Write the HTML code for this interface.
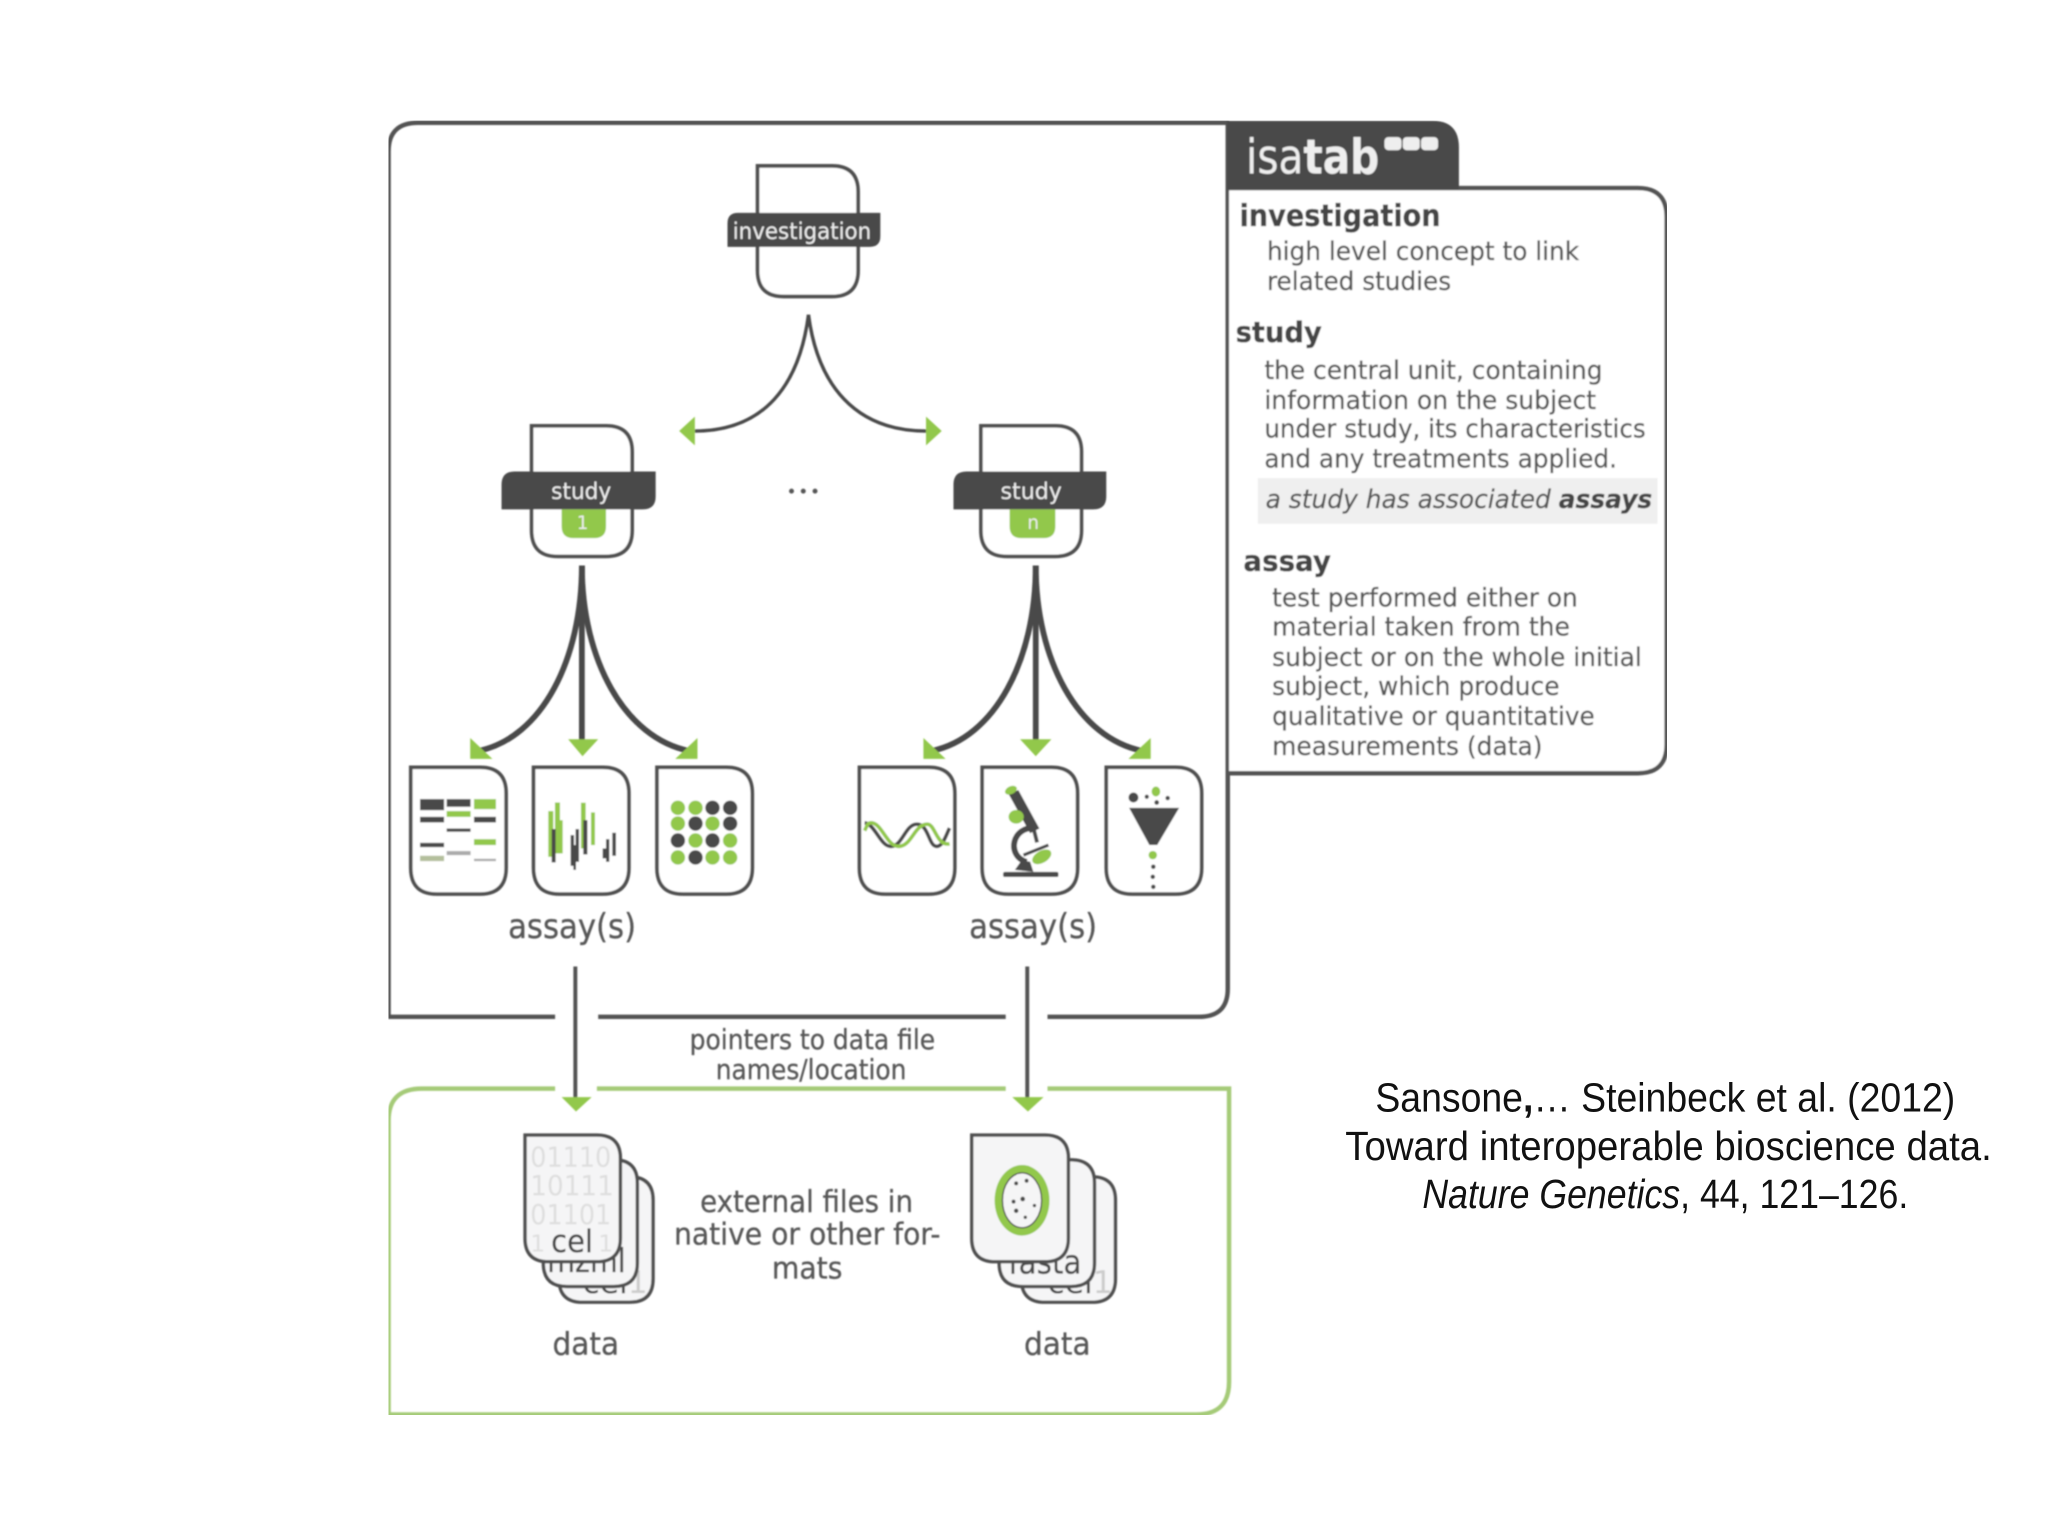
<!DOCTYPE html>
<html><head><meta charset="utf-8"><title>ISA-Tab diagram</title>
<style>html,body{margin:0;padding:0;background:#fff}svg{display:block}
.t{font-family:"DejaVu Sans",sans-serif;fill:#575757;stroke:#575757;stroke-width:.22px}
.b{font-family:"DejaVu Sans",sans-serif;font-weight:bold;fill:#444;stroke:#444;stroke-width:.25px}
.c{font-family:"Liberation Sans",sans-serif;fill:#111;font-size:31px}
</style></head><body>
<svg xmlns="http://www.w3.org/2000/svg" width="2048" height="1536" viewBox="0 0 1568 1176">
<defs>
<filter id="bl" x="0" y="0" width="100%" height="100%"><feGaussianBlur stdDeviation="0.65"/></filter>
<path id="doc" d="M0,0H53Q73,0 73,20V77Q73,97 53,97H20Q0,97 0,77Z"/>
<path id="sdoc" d="M0,0H57Q77,0 77,20V80Q77,100 57,100H20Q0,100 0,80Z"/>
</defs>
<rect width="1568" height="1176" fill="#fff"/>
<g filter="url(#bl)">
<!-- outer gray frame -->
<g fill="none" stroke="#525252" stroke-width="3.4">
<path d="M425,778.5H297.5V116Q297.5,94 320,94H941"/>
<path d="M458,778.5H770"/>
<path d="M802,778.5H918Q940,778.5 940,757V94"/>
</g>
<!-- green frame -->
<g fill="none" stroke="#a5cb78" stroke-width="3.4">
<path d="M425,833.5H323Q297.5,833.5 297.5,858V1083H916Q941,1083 941,1058V833.5H802"/>
<path d="M457,833.5H770"/>
</g>
<!-- isatab panel -->
<path d="M941,144H1254Q1276,144 1276,166V570Q1276,592 1254,592H941" fill="#fff" stroke="#525252" stroke-width="3.4"/>
<path d="M939.5,92.5H1097Q1117,92.5 1117,113V145H939.5Z" fill="#484848"/>
<text x="954" y="133" font-size="37" textLength="102" lengthAdjust="spacingAndGlyphs" style="font-family:'DejaVu Sans',sans-serif;fill:#eee">isa<tspan font-weight="bold">tab</tspan></text>
<g fill="#eee"><rect x="1060" y="105" width="13" height="10" rx="3"/><rect x="1074" y="105" width="13" height="10" rx="3"/><rect x="1088" y="105" width="13" height="10" rx="3"/></g>
<text class="b" x="949" y="173" font-size="23" textLength="154" lengthAdjust="spacingAndGlyphs">investigation</text>
<g font-size="20">
<text class="t" x="970" y="199" textLength="239" lengthAdjust="spacingAndGlyphs">high level concept to link</text>
<text class="t" x="970" y="222" textLength="141" lengthAdjust="spacingAndGlyphs">related studies</text>
<text class="t" x="968" y="290" textLength="259" lengthAdjust="spacingAndGlyphs">the central unit, containing</text>
<text class="t" x="968" y="313" textLength="254" lengthAdjust="spacingAndGlyphs">information on the subject</text>
<text class="t" x="968" y="335" textLength="292" lengthAdjust="spacingAndGlyphs">under study, its characteristics</text>
<text class="t" x="968" y="358" textLength="270" lengthAdjust="spacingAndGlyphs">and any treatments applied.</text>
<text class="t" x="974" y="464.5" textLength="234" lengthAdjust="spacingAndGlyphs">test performed either on</text>
<text class="t" x="974" y="486.5" textLength="228" lengthAdjust="spacingAndGlyphs">material taken from the</text>
<text class="t" x="974" y="510" textLength="283" lengthAdjust="spacingAndGlyphs">subject or on the whole initial</text>
<text class="t" x="974" y="532" textLength="220" lengthAdjust="spacingAndGlyphs">subject, which produce</text>
<text class="t" x="974" y="555" textLength="247" lengthAdjust="spacingAndGlyphs">qualitative or quantitative</text>
<text class="t" x="974" y="578" textLength="207" lengthAdjust="spacingAndGlyphs">measurements (data)</text>
</g>
<text class="b" x="946" y="262" font-size="22" textLength="66" lengthAdjust="spacingAndGlyphs">study</text>
<rect x="963" y="366" width="306" height="35" fill="#efefef"/>
<text class="t" x="969" y="389" font-size="20" font-style="italic" textLength="296" lengthAdjust="spacingAndGlyphs">a study has associated <tspan font-weight="bold" fill="#444">assays</tspan></text>
<text class="b" x="952" y="437" font-size="22" textLength="67" lengthAdjust="spacingAndGlyphs">assay</text>

<!-- nodes -->
<g fill="#fff" stroke="#4f4f4f" stroke-width="2.8">
<use href="#sdoc" x="580" y="127"/>
<use href="#sdoc" x="407" y="326"/>
<use href="#sdoc" x="751" y="326"/>
</g>
<path d="M565,163H674V181Q674,189 666,189H557V171Q557,163 565,163Z" fill="#484848"/>
<text x="561" y="183" font-size="18" textLength="106" lengthAdjust="spacingAndGlyphs" style="font-family:'DejaVu Sans',sans-serif;fill:#eee">investigation</text>
<path d="M394,361H502V380Q502,390 492,390H384V371Q384,361 394,361Z" fill="#484848"/>
<path d="M740,361H847V380Q847,390 837,390H730V371Q730,361 740,361Z" fill="#484848"/>
<path d="M430,390H464V403Q464,412 455,412H439Q430,412 430,403Z" fill="#92c84b"/>
<path d="M773,390H808V403Q808,412 799,412H782Q773,412 773,403Z" fill="#92c84b"/>
<g style="font-family:'DejaVu Sans',sans-serif">
<text x="422" y="382" font-size="18" textLength="46" lengthAdjust="spacingAndGlyphs" fill="#eee">study</text>
<text x="766" y="382" font-size="18" textLength="47" lengthAdjust="spacingAndGlyphs" fill="#eee">study</text>
<text x="446" y="405" font-size="14" text-anchor="middle" fill="#eee">1</text>
<text x="791" y="405" font-size="14" text-anchor="middle" fill="#eee">n</text>
</g>
<g fill="#555"><circle cx="606" cy="376" r="1.9"/><circle cx="615" cy="376" r="1.9"/><circle cx="624" cy="376" r="1.9"/></g>

<!-- investigation curves -->
<g fill="none" stroke="#484848" stroke-width="2.6">
<path d="M619,241C612,295 585,330 532,330"/>
<path d="M619,241C626,295 655,330 709,330"/>
</g>
<polygon points="520,330 532,319 532,341" fill="#92c84b"/>
<polygon points="721,330 709,319 709,341" fill="#92c84b"/>

<!-- study curves -->
<g fill="none" stroke="#484848" stroke-width="4.4">
<path d="M445.5,433C445.5,505 415,565 366,575"/>
<path d="M445.5,433V568"/>
<path d="M445.5,433C445.5,505 478,565 528,575"/>
<path d="M793,433C793,505 762,565 713,575"/>
<path d="M793,433V568"/>
<path d="M793,433C793,505 825,565 875,575"/>
</g>
<g fill="#92c84b">
<polygon points="360,565 360,581 377,581"/><polygon points="534,565 534,581 517,581"/><polygon points="435,566 458,566 446,579"/>
<polygon points="707,565 707,581 724,581"/><polygon points="881,565 881,581 864,581"/><polygon points="781,566 805,566 793,579"/>
</g>

<!-- assay docs -->
<g fill="#fff" stroke="#4f4f4f" stroke-width="2.8">
<use href="#doc" x="314.5" y="587.5"/><use href="#doc" x="408.5" y="587.5"/><use href="#doc" x="503" y="587.5"/>
<use href="#doc" x="658" y="587.5"/><use href="#doc" x="752" y="587.5"/><use href="#doc" x="847" y="587.5"/>
</g>
<!-- gel -->
<g fill="#484848">
<rect x="321.6" y="611.8" width="18.4" height="8.5"/><rect x="342" y="611.8" width="18.3" height="5.9"/>
<rect x="321.6" y="625.4" width="18.4" height="4.3"/><rect x="342" y="634.3" width="18.3" height="2.5"/><rect x="362.9" y="625.4" width="16.8" height="4.3"/>
<rect x="321.6" y="645.3" width="18.4" height="3.3"/>
</g>
<g fill="#92c84b"><rect x="362.9" y="611.8" width="16.8" height="7.7"/><rect x="342" y="621" width="18.3" height="4.4"/><rect x="362.9" y="642.5" width="16.8" height="4.5"/></g>
<g fill="#aaa"><rect x="321.6" y="655.2" width="18.4" height="4.1" fill="#b4bf9c"/><rect x="342" y="651.6" width="18.3" height="3.1"/><rect x="362.9" y="657.5" width="16.8" height="1.8"/></g>
<!-- chromatogram -->
<g fill="#92c84b">
<rect x="419.8" y="621" width="3.8" height="35"/><rect x="424.9" y="614.4" width="3.8" height="39"/><rect x="427.5" y="628" width="3.3" height="25.4"/>
<rect x="444.8" y="614.6" width="3.6" height="35"/><rect x="452.5" y="622" width="3" height="25"/>
</g>
<g fill="#484848">
<rect x="422.4" y="634.8" width="3" height="25.5"/><rect x="436.9" y="639.4" width="2.6" height="23.5"/><rect x="439" y="647" width="2" height="19"/><rect x="440.7" y="634.8" width="2.6" height="25"/>
<rect x="446.6" y="628" width="3.1" height="26.2"/><rect x="461.4" y="649.6" width="3.1" height="7.6"/><rect x="464" y="642.5" width="2.5" height="17.3"/><rect x="468.8" y="637.6" width="2.8" height="17.6"/>
</g>
<!-- dots -->
<g fill="#92c84b">
<circle cx="519" cy="618.5" r="5.5"/><circle cx="532.5" cy="618.5" r="5.5"/>
<circle cx="519" cy="630.5" r="5.5"/><circle cx="545.5" cy="630.5" r="5.5"/>
<circle cx="532.5" cy="643.5" r="5.5"/><circle cx="559" cy="643.5" r="5.5"/>
<circle cx="519" cy="656.5" r="5.5"/><circle cx="545.5" cy="656.5" r="5.5"/><circle cx="559" cy="656.5" r="5.5"/>
</g>
<g fill="#484848">
<circle cx="545.5" cy="618.5" r="5.5"/><circle cx="559" cy="618.5" r="5.5"/>
<circle cx="532.5" cy="630.5" r="5.5"/><circle cx="559" cy="630.5" r="5.5"/>
<circle cx="519" cy="643.5" r="5.5"/><circle cx="545.5" cy="643.5" r="5.5"/>
<circle cx="532.5" cy="656.5" r="5.5"/>
</g>
<!-- dna -->
<path d="M662,630C670,631 674,648 682,648C691,648 693,631 702,631C711,631 711,648 717,648C722,648 724,640 727,634" fill="none" stroke="#484848" stroke-width="2.8"/>
<path d="M662,636C664,632 664,630 667,630C675,630 679,648 688,648C698,648 700,631 710,631C716,631 717,648 727,646" fill="none" stroke="#92c84b" stroke-width="2.8"/>
<!-- microscope -->
<polygon points="772,607.5 779.7,604.9 795.8,634.3 788.7,638" fill="#484848"/>
<g fill="none" stroke="#484848">
<path d="M793,634C775,632 770,655 786,660" stroke-width="4.5"/>
<path d="M783.6,654.7L802.7,647" stroke-width="2.4"/>
<path d="M791,633L794,645" stroke-width="3"/>
</g>
<polygon points="777,666 782.3,658.5 788.7,659.8 791.2,667.5" fill="#484848"/>
<rect x="768" y="667.5" width="42.4" height="4" rx="1.5" fill="#484848"/>
<g fill="#92c84b">
<ellipse cx="774" cy="605" rx="4.8" ry="3" transform="rotate(-25 774 605)"/>
<ellipse cx="778" cy="625.4" rx="5.8" ry="5.2"/>
<ellipse cx="797.6" cy="656" rx="8" ry="4.6" transform="rotate(-30 797.6 656)"/>
</g>
<!-- funnel -->
<polygon points="864.5,618.5 902.8,618.5 886,647 880,647" fill="#484848"/>
<g fill="#484848"><circle cx="867.8" cy="610.6" r="3.8"/><circle cx="878" cy="610" r="1.6"/><circle cx="885.6" cy="614.4" r="1.8"/><circle cx="894" cy="611" r="1.7"/>
<circle cx="883" cy="663.6" r="1.7"/><circle cx="882.6" cy="671.3" r="1.7"/><circle cx="883" cy="679" r="1.7"/></g>
<ellipse cx="885" cy="606" rx="3.3" ry="3.8" fill="#92c84b"/><circle cx="882.6" cy="654.7" r="3.2" fill="#92c84b"/>

<text class="t" x="389" y="718" font-size="26" textLength="98" lengthAdjust="spacingAndGlyphs">assay(s)</text>
<text class="t" x="742" y="718" font-size="26" textLength="98" lengthAdjust="spacingAndGlyphs">assay(s)</text>

<!-- pointers -->
<g stroke="#525252" stroke-width="3"><path d="M440.5,740V842"/><path d="M786.5,740V842"/></g>
<polygon points="430,840 453,840 441,851" fill="#92c84b"/><polygon points="775,840 799,840 787,851" fill="#92c84b"/>
<text class="t" x="528" y="803" font-size="21" textLength="188" lengthAdjust="spacingAndGlyphs">pointers to data file</text>
<text class="t" x="548" y="826" font-size="21" textLength="146" lengthAdjust="spacingAndGlyphs">names/location</text>

<!-- left stack -->
<path d="M428,901H482Q500,901 500,919V979Q500,997 482,997H446Q428,997 428,979Z" fill="#f5f5f6" stroke="#4f4f4f" stroke-width="2.6"/>
<text class="t" x="446" y="990" font-size="24" style="fill:#444;stroke:none">cel<tspan fill="#ccc">1</tspan></text>
<path d="M416,888H470Q488,888 488,906V967Q488,985 470,985H434Q416,985 416,967Z" fill="#f5f5f6" stroke="#4f4f4f" stroke-width="2.6"/>
<text class="t" x="419" y="974" font-size="25" textLength="60" lengthAdjust="spacingAndGlyphs" style="fill:#4a4a4a">mzml</text>
<path d="M402,869H457Q475,869 475,887V948Q475,966 457,966H420Q402,966 402,948Z" fill="#f5f5f6" stroke="#4f4f4f" stroke-width="2.6"/>
<g style="font-family:'DejaVu Sans',sans-serif" font-size="21" fill="#dedede">
<text x="406" y="893" textLength="62" lengthAdjust="spacingAndGlyphs">01110</text>
<text x="406" y="915" textLength="64" lengthAdjust="spacingAndGlyphs">10111</text>
<text x="406" y="937" textLength="62" lengthAdjust="spacingAndGlyphs">01101</text>
<text x="406" y="958" font-size="18">1</text>
<text x="458" y="958" font-size="18">1</text>
</g>
<text class="t" x="422" y="958.5" font-size="24" textLength="32" lengthAdjust="spacingAndGlyphs" style="fill:#444">cel</text>

<!-- right stack -->
<path d="M782,901H836Q854,901 854,919V979Q854,997 836,997H800Q782,997 782,979Z" fill="#f5f5f6" stroke="#4f4f4f" stroke-width="2.6"/>
<text class="t" x="802" y="990" font-size="24" style="fill:#444;stroke:none">cel<tspan fill="#ccc">1</tspan></text>
<path d="M765,888H820Q838,888 838,906V967Q838,985 820,985H783Q765,985 765,967Z" fill="#f5f5f6" stroke="#4f4f4f" stroke-width="2.6"/>
<text class="t" x="772" y="975" font-size="25" textLength="56" lengthAdjust="spacingAndGlyphs" style="fill:#4a4a4a">fasta</text>
<path d="M744,869H800Q818,869 818,887V948Q818,966 800,966H762Q744,966 744,948Z" fill="#f5f5f6" stroke="#4f4f4f" stroke-width="2.6"/>
<ellipse cx="782.5" cy="919" rx="21" ry="27" fill="#92c84b"/>
<ellipse cx="782.5" cy="919" rx="15" ry="21" fill="#f5f5f6" stroke="#484848" stroke-width="1"/>
<g fill="#484848"><circle cx="778" cy="906" r="1.5"/><circle cx="786" cy="904" r="1.5"/><circle cx="776" cy="920" r="1.5"/><circle cx="783" cy="918" r="1.8"/><circle cx="778" cy="927" r="1.7"/><circle cx="792" cy="923" r="1.3"/><circle cx="785" cy="932" r="1.3"/></g>

<text class="t" x="536" y="928" font-size="23" textLength="163" lengthAdjust="spacingAndGlyphs">external files in</text>
<text class="t" x="516" y="953" font-size="23" textLength="204" lengthAdjust="spacingAndGlyphs">native or other for-</text>
<text class="t" x="591" y="979" font-size="23" textLength="54" lengthAdjust="spacingAndGlyphs">mats</text>
<text class="t" x="423" y="1037" font-size="24" textLength="51" lengthAdjust="spacingAndGlyphs">data</text>
<text class="t" x="784" y="1037" font-size="24" textLength="51" lengthAdjust="spacingAndGlyphs">data</text>
</g>

<!-- citation -->
<text class="c" x="1053" y="851" textLength="444" lengthAdjust="spacingAndGlyphs">Sansone<tspan font-weight="bold">,</tspan>… Steinbeck et al. (2012)</text>
<text class="c" x="1030" y="888" textLength="495" lengthAdjust="spacingAndGlyphs">Toward interoperable bioscience data.</text>
<text class="c" x="1089" y="925" textLength="372" lengthAdjust="spacingAndGlyphs"><tspan font-style="italic">Nature Genetics</tspan>, 44, 121–126.</text>
</svg>
</body></html>
